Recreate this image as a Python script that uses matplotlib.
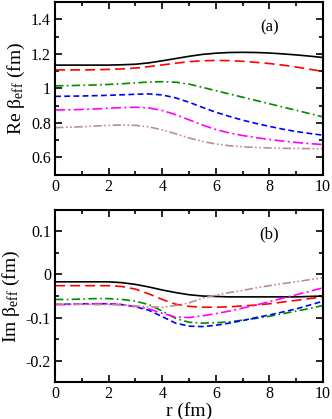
import matplotlib
matplotlib.use("Agg")
import matplotlib.pyplot as plt
from matplotlib.ticker import MultipleLocator

plt.rcParams['font.family'] = ['Liberation Serif', 'DejaVu Serif']
plt.rcParams['mathtext.fontset'] = 'custom'
plt.rcParams['mathtext.rm'] = 'Liberation Serif'
plt.rcParams['mathtext.it'] = 'Liberation Serif:italic'

r = [0, 0.5, 1, 1.5, 2, 2.5, 3, 3.5, 4, 4.5, 5, 5.5, 6, 6.5, 7, 7.5, 8, 8.5, 9, 9.5, 10]

# panel (a): Re beta_eff
re_black = [1.135, 1.135, 1.135, 1.135, 1.135, 1.137, 1.14, 1.148, 1.16, 1.173, 1.186,
            1.197, 1.204, 1.208, 1.209, 1.208, 1.205, 1.2, 1.194, 1.187, 1.179]
re_red = [1.107, 1.107, 1.107, 1.108, 1.11, 1.113, 1.118, 1.126, 1.136, 1.146, 1.155,
          1.16, 1.162, 1.161, 1.157, 1.151, 1.144, 1.135, 1.124, 1.111, 1.098]
re_green = [1.015, 1.016, 1.018, 1.02, 1.023, 1.027, 1.032, 1.037, 1.039, 1.036, 1.025,
            1.006, 0.987, 0.968, 0.949, 0.93, 0.911, 0.892, 0.873, 0.854, 0.835]
re_blue = [0.954, 0.955, 0.956, 0.958, 0.96, 0.963, 0.966, 0.968, 0.962, 0.945, 0.92,
           0.89, 0.862, 0.838, 0.816, 0.797, 0.78, 0.764, 0.75, 0.739, 0.729]
re_magenta = [0.875, 0.876, 0.878, 0.881, 0.885, 0.889, 0.891, 0.887, 0.872, 0.848, 0.818,
              0.788, 0.762, 0.742, 0.727, 0.715, 0.704, 0.695, 0.687, 0.68, 0.675]
re_brown = [0.773, 0.775, 0.778, 0.782, 0.786, 0.788, 0.786, 0.777, 0.76, 0.737, 0.713,
            0.693, 0.678, 0.668, 0.662, 0.658, 0.655, 0.653, 0.652, 0.651, 0.65]

# panel (b): Im beta_eff
im_black = [-0.017, -0.017, -0.017, -0.017, -0.017, -0.019, -0.023, -0.029, -0.036, -0.042, -0.047,
            -0.05, -0.051, -0.052, -0.052, -0.052, -0.052, -0.052, -0.052, -0.051, -0.05]
im_red = [-0.026, -0.026, -0.026, -0.026, -0.026, -0.028, -0.034, -0.045, -0.058, -0.069, -0.074,
          -0.076, -0.076, -0.075, -0.073, -0.071, -0.068, -0.064, -0.06, -0.056, -0.052]
im_green = [-0.058, -0.058, -0.057, -0.056, -0.056, -0.058, -0.062, -0.07, -0.085, -0.102, -0.111,
            -0.113, -0.112, -0.11, -0.106, -0.102, -0.097, -0.091, -0.085, -0.079, -0.072]
im_blue = [-0.069, -0.069, -0.068, -0.068, -0.068, -0.07, -0.075, -0.083, -0.098, -0.113, -0.12,
           -0.121, -0.118, -0.113, -0.107, -0.1, -0.094, -0.087, -0.08, -0.071, -0.062]
im_magenta = [-0.07, -0.07, -0.069, -0.068, -0.068, -0.07, -0.074, -0.08, -0.09, -0.099, -0.1,
              -0.096, -0.091, -0.085, -0.078, -0.071, -0.063, -0.055, -0.047, -0.039, -0.031]
im_brown = [-0.068, -0.069, -0.069, -0.07, -0.07, -0.071, -0.073, -0.075, -0.076, -0.072, -0.066,
            -0.055, -0.048, -0.042, -0.037, -0.031, -0.026, -0.021, -0.017, -0.012, -0.008]

styles = [
    dict(color='black', linestyle='-'),
    dict(color='#ff0000', linestyle=(0, (6, 3))),
    dict(color='#008a00', linestyle=(0, (5, 2, 1, 2))),
    dict(color='#0000ff', linestyle=(0, (3.5, 2))),
    dict(color='#ff00ff', linestyle=(0, (6, 2, 1.2, 2))),
    dict(color='#bc8f8f', linestyle=(0, (5, 1.5, 1, 1.5, 1, 1.5))),
]

fig = plt.figure(figsize=(3.32, 4.19), dpi=100)
ax1 = fig.add_axes([0.166, 0.583, 0.807, 0.412])
ax2 = fig.add_axes([0.166, 0.088, 0.807, 0.411])

for ys, st in zip([re_black, re_red, re_green, re_blue, re_magenta, re_brown], styles):
    ax1.plot(r, ys, lw=1.2, **st)
for ys, st in zip([im_black, im_red, im_green, im_blue, im_magenta, im_brown], styles):
    ax2.plot(r, ys, lw=1.2, **st)

ax1.set_xlim(0, 10)
ax1.set_ylim(0.5, 1.5)
ax1.yaxis.set_minor_locator(MultipleLocator(0.1))
ax1.set_yticks([0.6, 0.8, 1.0, 1.2, 1.4])
ax1.set_yticklabels(['0.6', '0.8', '1', '1.2', '1.4'])
ax1.set_ylabel('Re β$_{\\rm eff}$ (fm)', fontsize=14, labelpad=3)
ax1.text(0.80, 0.855, '(a)', transform=ax1.transAxes, fontsize=12, ha='center', va='center')

ax2.set_xlim(0, 10)
ax2.set_ylim(-0.25, 0.15)
ax2.yaxis.set_minor_locator(MultipleLocator(0.05))
ax2.set_yticks([-0.2, -0.1, 0.0, 0.1])
ax2.set_yticklabels(['-0.2', '-0.1', '0', '0.1'])
ax2.set_ylabel('Im β$_{\\rm eff}$ (fm)', fontsize=14, labelpad=3)
ax2.set_xlabel('r (fm)', fontsize=14, labelpad=0)
ax2.text(0.80, 0.855, '(b)', transform=ax2.transAxes, fontsize=12, ha='center', va='center')

for ax in (ax1, ax2):
    ax.xaxis.set_major_locator(MultipleLocator(2))
    ax.xaxis.set_minor_locator(MultipleLocator(1))
    ax.tick_params(which='both', direction='in', top=True, right=True, labelsize=11.5, width=1.2)
    ax.tick_params(which='major', length=5, pad=3)
    ax.tick_params(which='minor', length=3)
    for s in ax.spines.values():
        s.set_linewidth(1.5)

fig.savefig('out.png', dpi=100)
